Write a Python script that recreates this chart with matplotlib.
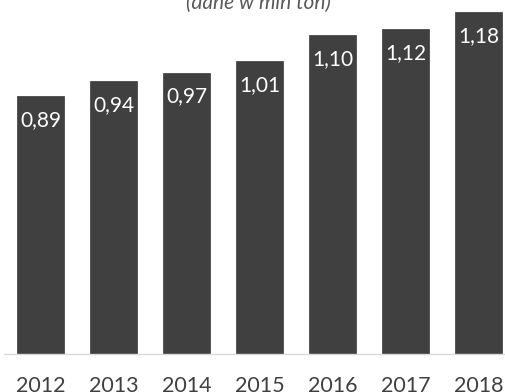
import matplotlib
matplotlib.use("Agg")
import matplotlib.pyplot as plt

years = ["2012", "2013", "2014", "2015", "2016", "2017", "2018"]
values = [0.89, 0.94, 0.97, 1.01, 1.10, 1.12, 1.18]
labels = ["0,89", "0,94", "0,97", "1,01", "1,10", "1,12", "1,18"]
subtitle = "(dane w mln ton)"

W, H = 506, 392
fig = plt.figure(figsize=(W / 100, H / 100), dpi=100)
plt.rcParams['font.family'] = ['Lato', 'DejaVu Sans']

left_px, right_px = 4, 506
base_px = 354
ax = fig.add_axes([left_px / W, (H - base_px) / H, (right_px - left_px) / W, base_px / H])
ax.set_xlim(-0.5, -0.5 + (right_px - left_px) / 73)
ax.set_ylim(0, base_px / 290)

x = list(range(len(years)))
bars = ax.bar(x, values, width=0.645, color="#404040", edgecolor="#4a4a4a", linewidth=0.6)
for xi, v, lab in zip(x, values, labels):
    ax.annotate(lab, (xi, v), xytext=(0, -10), textcoords="offset points",
                ha="center", va="top", color="white", fontsize=15)

ax.set_xticks(x)
ax.set_xticklabels(years, fontsize=15.5, color="#404040")
ax.tick_params(axis="x", length=0, pad=16)
ax.set_yticks([])
for s in ["top", "right", "left"]:
    ax.spines[s].set_visible(False)
ax.spines["bottom"].set_color("#d9d9d9")
ax.spines["bottom"].set_linewidth(1.0)

fig.text(258 / W, 1 - 9 / H, subtitle, ha="center", va="baseline",
         fontsize=15, style="italic", color="#595959")

fig.savefig("out.png", dpi=100)
